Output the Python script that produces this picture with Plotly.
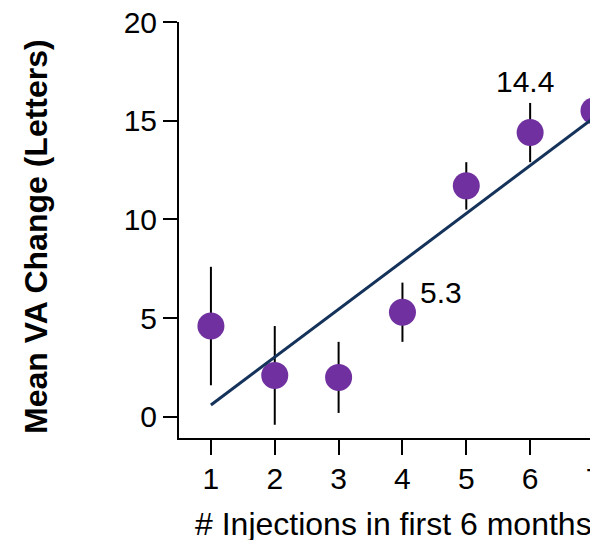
import plotly.graph_objects as go

injections = [1, 2, 3, 4, 5, 6, 7]
mean_va = [4.6, 2.1, 2.0, 5.3, 11.7, 14.4, 15.5]
err_va = [3.0, 2.5, 1.8, 1.5, 1.2, 1.5, 3.4]
trend_x = [1, 7]
trend_y = [0.6, 15.15]
labelled = {4: "5.3", 6: "14.4"}

FONT = "Liberation Sans, Arial, sans-serif"

fig = go.Figure()
fig.add_trace(go.Scatter(
    x=injections, y=mean_va, mode="markers",
    marker=dict(color="#7030A0", size=27, line=dict(width=0)),
    error_y=dict(type="data", array=err_va, color="black", thickness=2, width=0),
    showlegend=False,
))
fig.add_trace(go.Scatter(
    x=trend_x, y=trend_y, mode="lines",
    line=dict(color="#14325A", width=3), showlegend=False,
))

shifts = {4: (39, 20), 6: (-5, 51)}
for x, txt in labelled.items():
    y = mean_va[injections.index(x)]
    fig.add_annotation(x=x, y=y, text=txt, showarrow=False,
                       xshift=shifts[x][0], yshift=shifts[x][1],
                       font=dict(family=FONT, size=30, color="black"))

# y-axis title
fig.add_annotation(xref="paper", yref="paper", x=0, y=0.5, xanchor="center", yanchor="middle",
                   xshift=-143, yshift=-7, textangle=-90, showarrow=False,
                   text="<b>Mean VA Change (Letters)</b>",
                   font=dict(family=FONT, size=32, color="black"))

# x-axis title (centred as in the reference)
fig.add_annotation(xref="paper", yref="paper", x=0, y=0, xanchor="center", yanchor="middle",
                   xshift=393.5 - 179, yshift=-(524 - 438), showarrow=False,
                   text="# Injections in first 6 months",
                   font=dict(family=FONT, size=32, color="black"))

fig.update_layout(
    width=590, height=532,
    margin=dict(l=171, r=0, t=14, b=102),
    plot_bgcolor="white", paper_bgcolor="white",
    font=dict(family=FONT, color="black"),
    xaxis=dict(
        range=[0.5, 7.063], tickmode="array", tickvals=injections,
        ticks="outside", ticklen=15, tickwidth=2, tickcolor="black",
        showline=True, linecolor="black", linewidth=2, showgrid=False, zeroline=False,
        tickfont=dict(size=30, family=FONT, color="black"),
        ticklabeloverflow="allow", automargin=False, ticklabelstandoff=-2,
    ),
    yaxis=dict(
        range=[-1.07, 20], tickvals=[0, 5, 10, 15, 20],
        ticks="outside", ticklen=14, tickwidth=2, tickcolor="black",
        showline=True, linecolor="black", linewidth=2, showgrid=False, zeroline=False,
        tickfont=dict(size=30, family=FONT, color="black"),
        ticklabeloverflow="allow", automargin=False,
    ),
)

fig.write_html("out.html")
